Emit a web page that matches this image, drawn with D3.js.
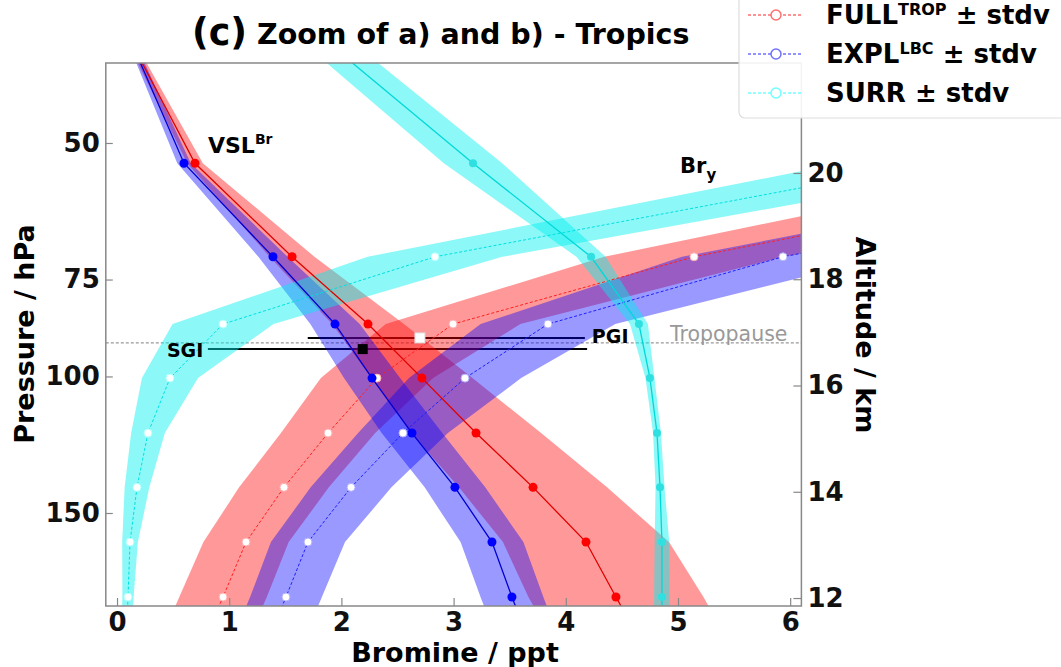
<!DOCTYPE html>
<html><head><meta charset="utf-8">
<script src="https://cdn.jsdelivr.net/npm/d3@7"></script>
<style>
body{margin:0;background:#fff}
text{font-family:"DejaVu Sans",sans-serif}
</style>
</head><body>
<svg id="c" width="1061" height="667"></svg>
<script>
// ---- data (pressure levels in hPa; first and last level lie just outside the plotted range) ----
const levels     = [225, 192.5, 163.5, 139, 118.3, 100.5, 85.6, 70.1, 53.1, 36];
const vslFull    = [4.71, 4.447, 4.180, 3.708, 3.200, 2.718, 2.237, 1.560, 0.695, 0.08];
const vslFullSd  = [0.78, 0.78, 0.74, 0.66, 0.58, 0.45, 0.32, 0.20, 0.07, 0.03];
const vslExpl    = [3.70, 3.520, 3.342, 3.012, 2.629, 2.273, 1.943, 1.390, 0.597, 0.09];
const vslExplSd  = [0.28, 0.28, 0.28, 0.27, 0.27, 0.25, 0.22, 0.13, 0.06, 0.03];
const vslSurr    = [4.857, 4.857, 4.857, 4.840, 4.813, 4.750, 4.652, 4.225, 3.173, 1.77];
const vslSurrSd  = [0.07, 0.07, 0.065, 0.04, 0.035, 0.04, 0.08, 0.13, 0.26, 0.22];
const bryFull    = [0.74, 0.945, 1.150, 1.488, 1.881, 2.317, 2.995, 5.143, 9.38, 12.0];
const bryFullSd  = [0.39, 0.39, 0.38, 0.40, 0.42, 0.50, 0.60, 0.80, 1.00, 1.20];
const bryExpl    = [1.31, 1.506, 1.702, 2.086, 2.549, 3.102, 3.841, 5.936, 10.35, 13.0];
const bryExplSd  = [0.32, 0.32, 0.33, 0.36, 0.40, 0.50, 0.60, 0.90, 1.00, 1.20];
const brySurr    = [0.08, 0.098, 0.116, 0.178, 0.276, 0.472, 0.945, 2.834, 7.26, 9.5];
const brySurrSd  = [0.05, 0.05, 0.07, 0.11, 0.15, 0.25, 0.45, 0.60, 0.80, 0.90];

const tropopauseP = 90.5;
const pgi = {p: 89.2, v: 2.70, lo: 1.70, hi: 4.17};
const sgi = {p: 92.2, v: 2.19, lo: 0.81, hi: 4.19};

const xTicks = [0,1,2,3,4,5,6];
const pTicks = [50,75,100,150];
const altTicks = [12,14,16,18,20];
const legendNames = [["FULL","TROP"],["EXPL","LBC"],["SURR",""]];

// ---- scales ----
const L=105.8, R=801.4, T=63, B=606;
const x = d3.scaleLinear().domain([-0.1, 6.1]).range([L, R]);
const y = d3.scaleLog().domain([39.43, 197.7]).range([T, B]);
const alt = d3.scaleLinear().domain([11.85, 22.07]).range([B, T]);

const svg = d3.select("#c");
svg.append("defs").append("clipPath").attr("id","clip")
  .append("rect").attr("x",L).attr("y",T).attr("width",R-L).attr("height",B-T);
const plot = svg.append("g").attr("clip-path","url(#clip)");

// tropopause
plot.append("line").attr("x1",L).attr("x2",R).attr("y1",y(tropopauseP)).attr("y2",y(tropopauseP))
  .attr("stroke","#999").attr("stroke-width",1.3).attr("stroke-dasharray","3,2");
svg.append("text").attr("x",670).attr("y",y(tropopauseP)-2).attr("font-size",20.5).attr("fill","#999").text("Tropopause");

// PGI / SGI bars + labels (under bands)
[pgi, sgi].forEach(g=>{
  plot.append("line").attr("x1",x(g.lo)).attr("x2",x(g.hi)).attr("y1",y(g.p)).attr("y2",y(g.p))
    .attr("stroke","#000").attr("stroke-width",2);
});
svg.append("text").attr("x",x(pgi.hi)+7).attr("y",y(pgi.p)+5).attr("font-size",19).attr("font-weight","bold").text("PGI");
svg.append("text").attr("x",x(sgi.lo)-41).attr("y",y(sgi.p)+8).attr("font-size",19).attr("font-weight","bold").text("SGI");

const mk = (m,s)=>levels.map((p,i)=>({p, m:m[i], s:s[i]}));
const series = [
  {d: mk(vslFull,vslFullSd), band:"rgba(255,0,0,0.4)", line:"#e00000", vsl:true, dot:"#ff0000", r:4.5},
  {d: mk(bryFull,bryFullSd), band:"rgba(255,0,0,0.4)", line:"#ff2020", vsl:false, edge:"#ffb0b0"},
  {d: mk(vslExpl,vslExplSd), band:"rgba(0,0,255,0.4)", line:"#0000d0", vsl:true, dot:"#0000ff", r:4.5},
  {d: mk(bryExpl,bryExplSd), band:"rgba(0,0,255,0.4)", line:"#2020ff", vsl:false, edge:"#b0b0ff"},
  {d: mk(vslSurr,vslSurrSd), band:"rgba(0,240,240,0.45)", line:"#00d8d8", vsl:true, dot:"#30e0e0", r:4},
  {d: mk(brySurr,brySurrSd), band:"rgba(0,240,240,0.45)", line:"#00e0e0", vsl:false, edge:"#b0ffff"}
];
const area = d3.area().y(d=>y(d.p)).x0(d=>x(d.m-d.s)).x1(d=>x(d.m+d.s));
const line = d3.line().x(d=>x(d.m)).y(d=>y(d.p));
series.forEach(s=>{
  plot.append("path").attr("d",area(s.d)).attr("fill",s.band).attr("stroke","none");
});
series.forEach(s=>{
  plot.append("path").attr("d",line(s.d)).attr("fill","none").attr("stroke",s.line)
    .attr("stroke-width",s.vsl?1.3:1).attr("stroke-dasharray",s.vsl?null:"3,2");
  plot.selectAll(null).data(s.d).enter().append("circle")
    .attr("cx",d=>x(d.m)).attr("cy",d=>y(d.p))
    .attr("r",s.vsl?s.r:4)
    .attr("fill",s.vsl?s.dot:"#fff")
    .attr("stroke",s.vsl?"none":s.edge).attr("stroke-width",1);
});
// PGI / SGI markers
plot.append("rect").attr("x",x(pgi.v)-5).attr("y",y(pgi.p)-5).attr("width",10).attr("height",10)
  .attr("fill","#fff").attr("stroke","#ddd").attr("stroke-width",1);
plot.append("rect").attr("x",x(sgi.v)-5).attr("y",y(sgi.p)-5).attr("width",10).attr("height",10)
  .attr("fill","#000");

// labels in plot
const vl = svg.append("text").attr("x",208).attr("y",153).attr("font-size",22).attr("font-weight","bold");
vl.append("tspan").text("VSL");
vl.append("tspan").attr("dy",-9).attr("font-size",14).text("Br");
const bl = svg.append("text").attr("x",680).attr("y",173).attr("font-size",21).attr("font-weight","bold");
bl.append("tspan").text("Br");
bl.append("tspan").attr("dy",7).attr("font-size",15).text("y");

// axes
const styleAxis = g=>{
  g.selectAll(".domain").remove();
  g.selectAll(".tick line").attr("stroke","#888").attr("stroke-width",1.2);
  g.selectAll(".tick text").attr("font-size",26).attr("font-weight","bold").attr("fill","#111")
    .attr("font-family","DejaVu Sans");
};
svg.append("g").attr("transform",`translate(0,${B})`)
  .call(d3.axisBottom(x).tickValues(xTicks).tickFormat(d3.format("d")).tickSize(-8).tickPadding(8))
  .call(styleAxis).call(g=>g.selectAll(".tick text").attr("y",7));
svg.append("g").attr("transform",`translate(${L},0)`)
  .call(d3.axisLeft(y).tickValues(pTicks).tickFormat(d3.format("d")).tickSize(-7).tickPadding(6))
  .call(styleAxis);
svg.append("g").attr("transform",`translate(${R},0)`)
  .call(d3.axisRight(alt).tickValues(altTicks).tickFormat(d3.format("d")).tickSize(-8).tickPadding(6))
  .call(styleAxis);
// frame
svg.append("rect").attr("x",L).attr("y",T).attr("width",R-L).attr("height",B-T)
  .attr("fill","none").attr("stroke","#888").attr("stroke-width",1.5);

// axis titles
svg.append("text").attr("x",455).attr("y",662).attr("text-anchor","middle").attr("font-size",27)
  .attr("font-weight","bold").text("Bromine / ppt");
svg.append("text").attr("transform","translate(34,334) rotate(-90)").attr("text-anchor","middle")
  .attr("font-size",27).attr("font-weight","bold").text("Pressure / hPa");
svg.append("text").attr("transform","translate(856,335) rotate(90)").attr("text-anchor","middle")
  .attr("font-size",27).attr("font-weight","bold").text("Altitude / km");

// title
const tt = svg.append("text").attr("x",192).attr("y",45).attr("font-weight","bold");
tt.append("tspan").attr("font-size",36.5).text("(c)");
tt.append("tspan").attr("font-size",28.5).attr("dx",10).attr("dy",-1).text("Zoom of a) and b) - Tropics");

// legend
const lg = svg.append("g");
lg.append("rect").attr("x",739).attr("y",-10).attr("width",340).attr("height",128).attr("rx",6)
  .attr("fill","#fff").attr("fill-opacity",0.9).attr("stroke","#ddd").attr("stroke-width",1.2);
const legCols = ["#ff7070","#7070ff","#70ffff"];
const legY = [15,54,93];
legendNames.forEach((n,i)=>{
  lg.append("line").attr("x1",748).attr("x2",803).attr("y1",legY[i]).attr("y2",legY[i])
    .attr("stroke",legCols[i]).attr("stroke-width",1.5).attr("stroke-dasharray","3,2");
  lg.append("circle").attr("cx",776).attr("cy",legY[i]).attr("r",5).attr("fill","#fff")
    .attr("stroke",legCols[i]).attr("stroke-width",1.5);
  const t = lg.append("text").attr("x",826).attr("y",legY[i]+9).attr("font-size",26).attr("font-weight","bold");
  t.append("tspan").text(n[0]);
  if(n[1]){ t.append("tspan").attr("dy",-9).attr("font-size",16).text(n[1]);
            t.append("tspan").attr("dy",9).text(" \u00b1 stdv"); }
  else t.append("tspan").text(" \u00b1 stdv");
});
</script>
</body></html>
